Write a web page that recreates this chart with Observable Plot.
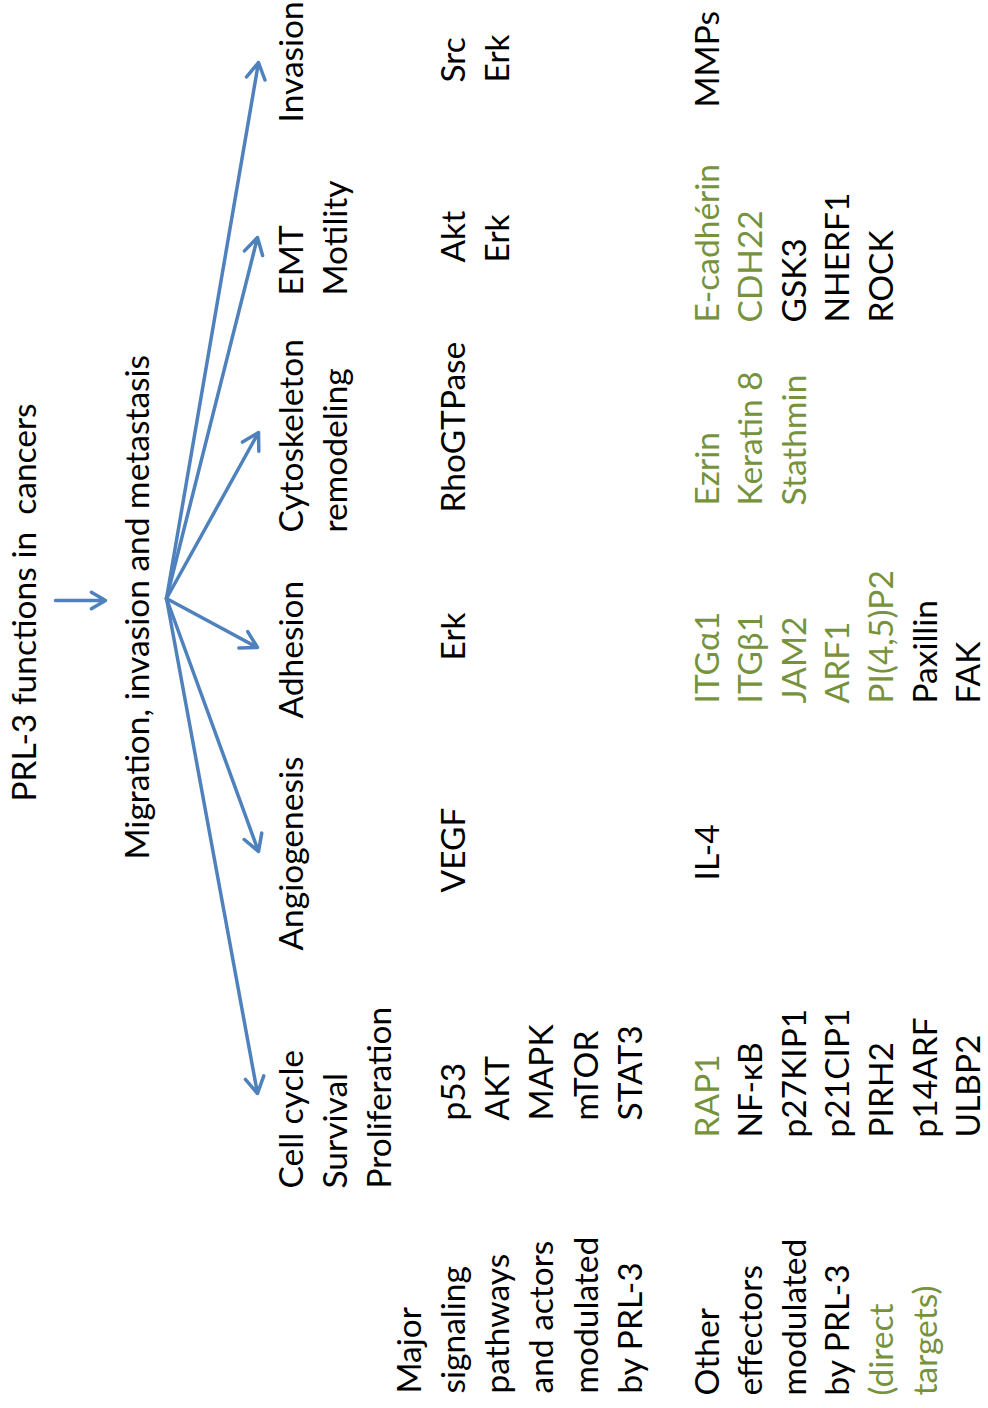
<!DOCTYPE html>
<html><head><meta charset="utf-8">
<script src="https://cdn.jsdelivr.net/npm/d3@7"></script>
<script src="https://cdn.jsdelivr.net/npm/@observablehq/plot@0.6"></script>
<style>html,body{margin:0;padding:0;background:#fff} svg{display:block}</style>
</head><body><div id="chart"></div>
<script>
// ---- content ----
const title = "PRL-3 functions in\u00A0 cancers";
const subtitle = "Migration, invasion and metastasis";
const functions = [
  ["Cell cycle", "Survival", "Proliferation"],
  ["Angiogenesis"],
  ["Adhesion"],
  ["Cytoskeleton", "remodeling"],
  ["EMT", "Motility"],
  ["Invasion"]
];
const majorLabel = ["Major", "signaling", "pathways", "and actors", "modulated", "by PRL-3"];
const pathways = [
  ["p53", "AKT", "MAPK", "mTOR", "STAT3"],
  ["VEGF"],
  ["Erk"],
  ["RhoGTPase"],
  ["Akt", "Erk"],
  ["Src", "Erk"]
];
const otherLabel = ["Other", "effectors", "modulated", "by PRL-3", "(direct", "targets)"];
const otherLabelGreen = ["(direct", "targets)"];
const effectors = [
  ["RAP1", "NF-κB", "p27KIP1", "p21CIP1", "PIRH2", "p14ARF", "ULBP2"],
  ["IL-4"],
  ["ITGα1", "ITGβ1", "JAM2", "ARF1", "PI(4,5)P2", "Paxillin", "FAK"],
  ["Ezrin", "Keratin 8", "Stathmin"],
  ["E-cadhérin", "CDH22", "GSK3", "NHERF1", "ROCK"],
  ["MMPs"]
];
const directTargets = ["RAP1", "ITGα1", "ITGβ1", "JAM2", "ARF1", "PI(4,5)P2",
  "Ezrin", "Keratin 8", "Stathmin", "E-cadhérin", "CDH22"];

// ---- layout (diagram geometry, not data) ----
const W = 988, H = 1408, FONT = 33.5, LINE = 44.3, LINE_OTHER = 43.6;
const BLUE = "#4F81BD", GREEN = "#76923C", BLACK = "#000";
const layout = {
  titleBase: 35, titleStart: 801,
  subBase: 148, subStart: 859,
  funcBase: 302, funcStart: [1188, 950, 718, 532, 295, 122],
  majorBase: 420, labelStart: 1393,
  pathStart: [1120, 892, 660, 512, 262, 82],
  otherBase: 718, effStart: [1137, 880, 703, 505, 322, 107],
  origin: [166, 598],
  tips: [[257, 1093], [258, 851], [257, 647], [258, 432], [257, 237], [258, 62]],
  smallArrow: [[55, 600], [105, 600]]
};

const texts = [];
const push = (text, x, y, fill = BLACK) => texts.push({text, x, y, fill});
push(title, layout.titleBase, layout.titleStart);
push(subtitle, layout.subBase, layout.subStart);
functions.forEach((lines, c) => lines.forEach((t, i) => push(t, layout.funcBase + i * LINE, layout.funcStart[c])));
majorLabel.forEach((t, i) => push(t, layout.majorBase + i * LINE, layout.labelStart));
pathways.forEach((lines, c) => lines.forEach((t, i) => push(t, layout.majorBase + (i + 1) * LINE, layout.pathStart[c])));
otherLabel.forEach((t, i) => push(t, layout.otherBase + i * LINE_OTHER, layout.labelStart + 2, otherLabelGreen.includes(t) ? GREEN : BLACK));
effectors.forEach((lines, c) => lines.forEach((t, i) => push(t, layout.otherBase + i * LINE_OTHER, layout.effStart[c], directTargets.includes(t) ? GREEN : BLACK)));

const arrows = functions.map((f, c) => ({
  target: f[0],
  x1: layout.origin[0], y1: layout.origin[1],
  x2: layout.tips[c][0], y2: layout.tips[c][1]
}));
const lead = [{x1: layout.smallArrow[0][0], y1: layout.smallArrow[0][1], x2: layout.smallArrow[1][0], y2: layout.smallArrow[1][1]}];

const chart = Plot.plot({
  width: W, height: H,
  margin: 0,
  x: {type: "linear", domain: [0, W], range: [0, W], axis: null},
  y: {type: "linear", domain: [0, H], range: [0, H], axis: null},
  color: {type: "identity"},
  style: {background: "#fff"},
  marks: [
    Plot.arrow(lead, {x1: "x1", y1: "y1", x2: "x2", y2: "y2", stroke: BLUE, strokeWidth: 3.5, headLength: 7}),
    Plot.arrow(arrows, {x1: "x1", y1: "y1", x2: "x2", y2: "y2", stroke: BLUE, strokeWidth: 3.5, headLength: 8}),
    Plot.text(texts, {
      x: "x", y: "y", text: "text", fill: "fill",
      rotate: -90, textAnchor: "start", lineAnchor: "bottom",
      fontSize: FONT, fontFamily: "Lato", fontWeight: 400
    })
  ]
});
chart.style.whiteSpace = "pre";
document.getElementById("chart").appendChild(chart);
</script>
</body></html>
